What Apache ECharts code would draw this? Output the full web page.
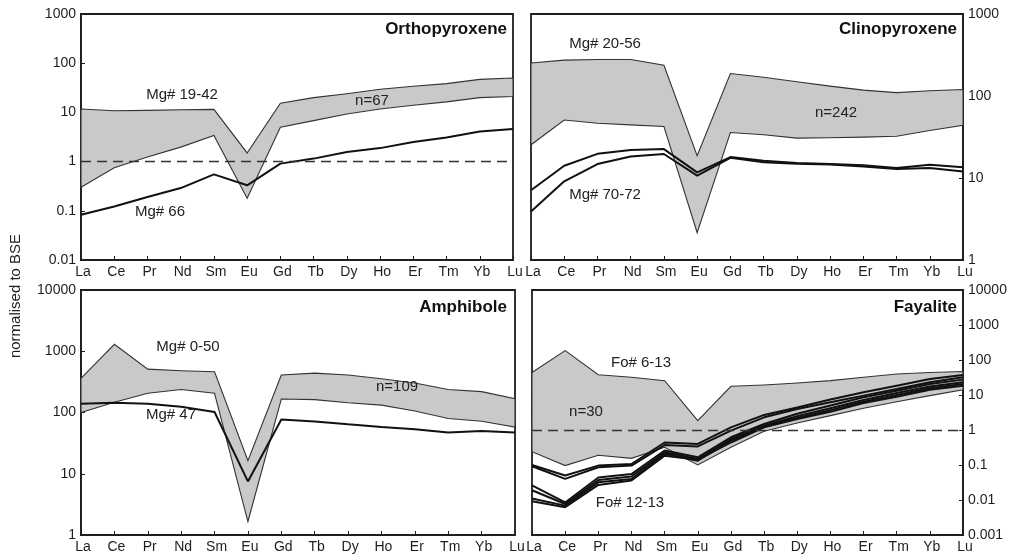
<!DOCTYPE html>
<html>
<head>
<meta charset="utf-8">
<script src="https://cdn.jsdelivr.net/npm/echarts@6/dist/echarts.min.js"></script>
<style>
  html, body { margin: 0; padding: 0; background: #fff; }
  #chart { width: 1013px; height: 560px; }
</style>
</head>
<body>
<div id="chart"></div>
<script>
// Rare earth elements, chondrite order
const ree = ['La', 'Ce', 'Pr', 'Nd', 'Sm', 'Eu', 'Gd', 'Tb', 'Dy', 'Ho', 'Er', 'Tm', 'Yb', 'Lu'];

// Orthopyroxene: envelope of n=67 analyses (Mg# 19-42) and one Mg# 66 grain
const opxMax = [11.7, 10.8, 11, 11.3, 11.5, 1.5, 15.4, 20, 24, 29.5, 34, 38.5, 47, 50];
const opxMin = [0.30, 0.75, 1.24, 1.97, 3.4, 0.18, 5.0, 6.8, 9.3, 11.7, 14, 16.4, 20, 21];
const opxMg66 = [0.083, 0.122, 0.19, 0.29, 0.55, 0.33, 0.91, 1.15, 1.57, 1.88, 2.5, 3.1, 4.1, 4.6];

// Clinopyroxene: envelope of n=242 analyses (Mg# 20-56) and two Mg# 70-72 grains
const cpxMax = [253, 274, 279, 279, 237, 18.7, 188, 169, 149, 132, 118, 110, 116, 120];
const cpxMin = [25.4, 51, 46.5, 44.5, 42.4, 2.15, 35.9, 33.7, 30.6, 31, 31.5, 32.3, 38, 44];
const cpxMg70a = [7.1, 14.1, 19.7, 22, 22.5, 11.7, 18, 16.2, 15.2, 14.8, 14.3, 13.2, 14.5, 13.5];
const cpxMg70b = [3.9, 9.1, 14.8, 18.3, 19.6, 10.7, 17.6, 15.6, 14.9, 14.6, 13.8, 12.9, 13.2, 12.0];

// Amphibole: envelope of n=109 analyses (Mg# 0-50) and one Mg# 47 grain
const amphMax = [362, 1300, 510, 480, 463, 16.4, 410, 440, 410, 355, 303, 238, 219, 168];
const amphMin = [100, 147, 206, 238, 206, 1.66, 166, 162, 144, 132, 106, 80, 72, 58];
const amphMg47 = [139, 144, 139, 124, 102, 7.5, 77, 71, 64, 58, 53.4, 47, 50, 47];

// Fayalite: envelope of n=30 analyses (Fo# 6-13) and Fo# 12-13 grains
const fayMax = [44, 185, 38, 32, 25.7, 1.85, 17.7, 19.3, 22, 25.7, 32, 40, 44, 47];
const fayMin = [0.24, 0.096, 0.19, 0.155, 0.32, 0.10, 0.32, 0.92, 1.58, 2.57, 4.2, 6.4, 9.6, 14.2];
const fayFoA1 = [0.1, 0.05, 0.096, 0.107, 0.44, 0.40, 1.19, 2.7, 4.4, 7.4, 12, 18.5, 28.6, 37];
const fayFoA2 = [0.092, 0.04, 0.086, 0.096, 0.37, 0.34, 0.96, 2.3, 4.0, 6.2, 9.6, 14.8, 23, 32];
const fayFoB1 = [0.026, 0.0085, 0.044, 0.055, 0.26, 0.166, 0.62, 1.48, 2.9, 5.0, 8.6, 13.3, 20.6, 27.5];
const fayFoB2 = [0.019, 0.0077, 0.037, 0.047, 0.23, 0.148, 0.55, 1.33, 2.46, 4.2, 7.2, 11.4, 17.6, 23];
const fayFoB3 = [0.011, 0.0069, 0.032, 0.040, 0.21, 0.133, 0.50, 1.24, 2.2, 3.7, 6.4, 10, 15.5, 20.6];
const fayFoB4 = [0.0092, 0.0062, 0.027, 0.036, 0.185, 0.142, 0.44, 1.19, 2.06, 3.3, 5.9, 8.9, 14.2, 18.5];

// Axis ranges (powers of ten)
const yRanges = [[0.01, 1000], [1, 1000], [1, 10000], [0.001, 10000]];
const yPositions = ['left', 'right', 'left', 'right'];

const FONT = 'Liberation Sans, Arial, sans-serif';
const INK = '#1e1e1e';

const grids = [
  { left: 81, top: 14, width: 432, height: 246 },
  { left: 531, top: 14, width: 432, height: 246 },
  { left: 81, top: 290, width: 434, height: 245 },
  { left: 532, top: 290, width: 431, height: 245 }
].map(g => Object.assign(g, { show: true, borderColor: INK, borderWidth: 1.8, backgroundColor: 'transparent' }));

const xAxes = grids.map((g, i) => ({
  type: 'category', gridIndex: i, data: ree, boundaryGap: false,
  axisLine: { show: true, lineStyle: { color: INK, width: 1.8 } },
  axisTick: { show: true, inside: true, length: 4, lineStyle: { color: INK } },
  axisLabel: { interval: 0, color: INK, fontSize: 14, fontFamily: FONT, margin: 5, padding: [0, 0, 0, 4] },
  splitLine: { show: false }
}));

const yAxes = yRanges.map((r, i) => ({
  type: 'log', logBase: 10, gridIndex: i, min: r[0], max: r[1], interval: 1,
  position: yPositions[i],
  axisLine: { show: true, lineStyle: { color: INK, width: 1.8 } },
  axisTick: { show: true, inside: true, length: 4, lineStyle: { color: INK } },
  axisLabel: {
    color: INK, fontSize: 14, fontFamily: FONT, margin: 5,
    formatter: v => String(Number(Number(v).toPrecision(3)))
  },
  splitLine: { show: false },
  minorTick: { show: false }
}));

// Shaded envelope between the maximum and minimum profiles
function band(idx, upper, lower) {
  return {
    type: 'custom', xAxisIndex: idx, yAxisIndex: idx, z: 1, silent: true,
    data: [[0, upper[0]]],
    encode: { x: 0, y: 1 },
    renderItem: function (params, api) {
      if (params.dataIndex !== 0) return;
      const pts = [];
      for (let i = 0; i < upper.length; i++) pts.push(api.coord([i, upper[i]]));
      for (let i = lower.length - 1; i >= 0; i--) pts.push(api.coord([i, lower[i]]));
      return {
        type: 'polygon',
        shape: { points: pts },
        style: { fill: '#c9c9c9', stroke: '#333', lineWidth: 1.1 }
      };
    }
  };
}

function profile(idx, values, extra) {
  return Object.assign({
    type: 'line', xAxisIndex: idx, yAxisIndex: idx, data: values,
    symbol: 'none', silent: true, z: 4,
    lineStyle: { color: '#111', width: 2 }
  }, extra || {});
}

// Dashed reference at BSE = 1
const unityLine = {
  silent: true, symbol: 'none', label: { show: false },
  lineStyle: { color: '#333', type: [10, 6], width: 1.3 },
  data: [{ yAxis: 1 }]
};

const series = [
  band(0, opxMax, opxMin),
  profile(0, opxMg66, { markLine: unityLine, z: 3 }),
  band(1, cpxMax, cpxMin),
  profile(1, cpxMg70a),
  profile(1, cpxMg70b),
  band(2, amphMax, amphMin),
  profile(2, amphMg47),
  band(3, fayMax, fayMin),
  profile(3, fayFoA1, { markLine: unityLine, z: 3 }),
  profile(3, fayFoA2),
  profile(3, fayFoB1),
  profile(3, fayFoB2),
  profile(3, fayFoB3),
  profile(3, fayFoB4)
];

function note(text, x, y) {
  return {
    type: 'text', x: x, y: y, z: 10,
    style: { text: text, fill: '#222', font: '15px ' + FONT, textAlign: 'center', textVerticalAlign: 'middle' }
  };
}
function heading(text, x, y) {
  return {
    type: 'text', x: x, y: y, z: 10,
    style: { text: text, fill: '#111', font: 'bold 17px ' + FONT, textAlign: 'right', textVerticalAlign: 'middle' }
  };
}

const graphics = [
  heading('Orthopyroxene', 507, 29),
  heading('Clinopyroxene', 957, 29),
  heading('Amphibole', 507, 307),
  heading('Fayalite', 957, 307),
  note('Mg# 19-42', 182, 95),
  note('n=67', 372, 101),
  note('Mg# 66', 160, 212),
  note('Mg# 20-56', 605, 44),
  note('n=242', 836, 113),
  note('Mg# 70-72', 605, 195),
  note('Mg# 0-50', 188, 347),
  note('n=109', 397, 387),
  note('Mg# 47', 171, 415),
  note('Fo# 6-13', 641, 363),
  note('n=30', 586, 412),
  note('Fo# 12-13', 630, 503),
  {
    type: 'text', x: 16, y: 296, rotation: Math.PI / 2, z: 10,
    style: { text: 'normalised to BSE', fill: '#222', font: '15px ' + FONT, textAlign: 'center', textVerticalAlign: 'middle' }
  }
];

const chart = echarts.init(document.getElementById('chart'), null, { renderer: 'canvas' });
chart.setOption({
  backgroundColor: '#fff',
  animation: false,
  grid: grids,
  xAxis: xAxes,
  yAxis: yAxes,
  series: series,
  graphic: graphics
});
</script>
</body>
</html>
